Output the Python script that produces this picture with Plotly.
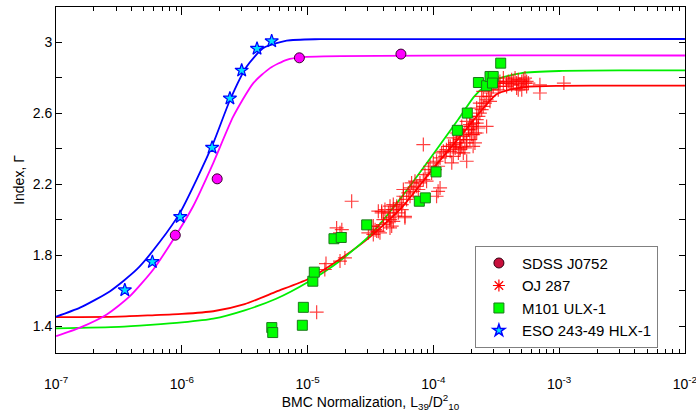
import plotly.graph_objects as go

# ---------------- data ----------------
# ESO 243-49 HLX-1 (stars)
eso_norm = [3.52e-7, 5.83e-7, 9.7e-7, 1.74e-6, 2.41e-6, 2.99e-6, 3.96e-6, 5.18e-6]
eso_gamma = [1.604, 1.763, 2.016, 2.406, 2.683, 2.84, 2.963, 3.005]

# SDSS J0752 (circles)
sdss_norm = [8.87e-7, 1.91e-6, 8.6e-6, 5.52e-5]
sdss_gamma = [1.913, 2.23, 2.911, 2.932]

# M101 ULX-1 (squares)
m101_norm = [9.25e-6, 9.08e-6, 5.19e-6, 5.28e-6, 1.10e-5, 1.13e-5, 1.62e-5, 1.85e-5,
             2.95e-5, 7.73e-5, 8.63e-5, 1.05e-4, 1.55e-4, 1.86e-4, 2.28e-4, 2.65e-4,
             2.82e-4, 2.99e-4, 2.95e-4, 3.43e-4]
m101_gamma = [1.507, 1.406, 1.393, 1.365, 1.654, 1.705, 1.893, 1.90,
              1.971, 2.104, 2.123, 2.269, 2.503, 2.60, 2.772, 2.754,
              2.806, 2.806, 2.769, 2.881]

# OJ 287 (crosses)
oj_norm = [
    3.33e-5, 3.54e-5, 3.76e-5, 4.00e-5, 4.25e-5, 4.52e-5, 4.66e-5, 4.80e-5, 5.11e-5, 5.42e-5,
    5.60e-5, 5.77e-5, 5.77e-5, 6.12e-5, 6.32e-5, 6.52e-5, 5.94e-5, 6.92e-5, 7.36e-5, 7.82e-5,
    8.32e-5, 8.57e-5, 8.83e-5, 9.12e-5, 9.40e-5, 9.68e-5, 9.98e-5, 1.06e-4, 1.09e-4, 1.13e-4,
    1.16e-4, 1.20e-4, 1.24e-4, 1.27e-4, 1.32e-4, 1.36e-4, 1.40e-4, 1.44e-4, 1.49e-4, 1.53e-4,
    1.58e-4, 1.63e-4, 1.68e-4, 1.73e-4, 1.78e-4, 1.84e-4, 1.84e-4, 1.90e-4, 1.95e-4, 2.01e-4,
    2.07e-4, 2.14e-4, 2.21e-4, 8.32e-5, 1.09e-4, 1.13e-4, 1.06e-4, 4.12e-5, 3.88e-5, 3.33e-5,
    4.52e-5, 3.65e-5, 6.52e-5, 7.14e-5, 7.59e-5, 4.95e-5, 5.26e-5, 4.39e-5, 6.71e-5, 1.03e-4,
    1.44e-4, 1.63e-4, 1.73e-4, 1.95e-4, 2.07e-4, 2.21e-4, 2.28e-4,
    1.36e-4, 1.49e-4, 1.63e-4, 1.73e-4, 1.84e-4, 1.90e-4, 2.01e-4, 2.07e-4, 2.14e-4, 2.21e-4,
    2.28e-4, 2.34e-4, 2.42e-4, 2.49e-4, 2.65e-4, 2.07e-4, 1.63e-4, 1.78e-4, 2.57e-4, 2.65e-4,
    2.74e-4, 2.82e-4, 2.90e-4, 2.99e-4, 2.82e-4, 3.09e-4, 3.18e-4, 3.28e-4, 3.38e-4, 3.60e-4,
    3.82e-4, 4.06e-4, 4.32e-4, 4.46e-4, 4.59e-4, 4.73e-4, 4.88e-4, 5.04e-4, 5.19e-4, 5.35e-4,
    5.51e-4, 5.69e-4, 4.19e-4, 3.94e-4, 4.59e-4, 5.04e-4, 7.03e-4, 7.03e-4, 1.09e-3, 2.42e-4,
    2.49e-4, 2.34e-4, 2.21e-4, 1.95e-4, 1.84e-4, 1.68e-4, 1.53e-4, 1.44e-4,
    3.60e-4, 3.82e-4, 4.19e-4, 5.35e-4, 5.51e-4, 4.73e-4, 3.38e-4, 3.28e-4,
    1.18e-5, 1.40e-5, 1.37e-5, 1.81e-5, 1.98e-5, 1.70e-5, 1.87e-5, 1.81e-5, 2.24e-5, 3.04e-5,
    3.23e-5, 3.65e-5, 3.88e-5, 4.52e-5, 4.80e-5, 5.11e-5, 5.60e-5, 5.94e-5, 4.52e-5, 4.80e-5,
    4.00e-5, 3.44e-5,
]
oj_gamma = [
    1.964, 1.936, 1.926, 2.001, 1.982, 2.011, 1.964, 2.057, 2.076, 2.095,
    2.057, 2.132, 2.170, 2.114, 2.151, 2.179, 2.011, 2.160, 2.188, 2.207,
    2.226, 2.254, 2.217, 2.282, 2.301, 2.263, 2.320, 2.329, 2.301, 2.348,
    2.376, 2.385, 2.357, 2.394, 2.413, 2.385, 2.320, 2.423, 2.404, 2.432,
    2.376, 2.451, 2.413, 2.469, 2.488, 2.451, 2.329, 2.507, 2.535, 2.479,
    2.526, 2.432, 2.544, 2.423, 2.160, 2.179, 2.132, 2.057, 2.039, 1.917,
    1.954, 2.048, 2.132, 2.217, 2.170, 2.020, 2.039, 2.039, 2.207, 2.282,
    2.357, 2.394, 2.376, 2.451, 2.479, 2.488, 2.516,
    2.413, 2.432, 2.450, 2.478, 2.432, 2.507, 2.525, 2.544, 2.488, 2.563,
    2.581, 2.600, 2.619, 2.638, 2.525, 2.413, 2.404, 2.404, 2.656, 2.675,
    2.694, 2.713, 2.731, 2.750, 2.666, 2.769, 2.778, 2.769, 2.778, 2.769,
    2.769, 2.769, 2.778, 2.797, 2.769, 2.787, 2.759, 2.778, 2.787, 2.769,
    2.778, 2.769, 2.759, 2.778, 2.741, 2.731, 2.759, 2.713, 2.769, 2.694,
    2.722, 2.656, 2.628, 2.581, 2.553, 2.525, 2.488, 2.460,
    2.797, 2.750, 2.787, 2.797, 2.750, 2.731, 2.750, 2.731,
    1.480, 1.753, 1.720, 1.767, 1.785, 1.954, 1.944, 1.926, 2.104, 1.926,
    1.963, 1.935, 2.047, 2.076, 2.085, 2.066, 2.085, 2.019, 2.001, 1.991,
    1.973, 1.944,
]

# fitted curves
fit_blue_norm = [1e-7, 1.55e-7, 2.69e-7, 4.38e-7, 6.71e-7, 9.68e-7, 1.31e-6, 1.78e-6,
                 2.42e-6, 3.28e-6, 4.45e-6, 6.82e-6, 1.26e-5, 1e-2]
fit_blue_gamma = [1.454, 1.505, 1.598, 1.72, 1.877, 2.04, 2.226, 2.432,
                  2.675, 2.862, 2.966, 3.008, 3.016, 3.017]

fit_magenta_norm = [1e-7, 1.55e-7, 2.53e-7, 3.87e-7, 5.93e-7, 8.55e-7, 1.23e-6, 1.78e-6,
                    2.56e-6, 3.70e-6, 5.02e-6, 6.82e-6, 9.25e-6, 1e-2]
fit_magenta_gamma = [1.345, 1.393, 1.467, 1.570, 1.72, 1.889, 2.076, 2.32,
                     2.58, 2.769, 2.853, 2.9, 2.915, 2.924]

fit_red_norm = [1e-7, 3.16e-7, 5.62e-7, 1e-6, 1.78e-6, 3.16e-6, 5.62e-6, 1e-5, 1.78e-5,
                3.16e-5, 5.62e-5, 1e-4, 1.78e-4, 2.51e-4, 3.16e-4, 3.98e-4, 5.62e-4,
                1e-3, 3.16e-3, 1e-2]
fit_red_gamma = [1.452, 1.455, 1.462, 1.47, 1.485, 1.525, 1.595, 1.665, 1.775,
                 1.905, 2.07, 2.29, 2.50, 2.63, 2.705, 2.73, 2.748,
                 2.753, 2.755, 2.755]

fit_green_norm = [1e-7, 3.16e-7, 5.62e-7, 1e-6, 1.78e-6, 3.16e-6, 5.62e-6, 1e-5, 1.78e-5,
                  3.16e-5, 5.62e-5, 1e-4, 1.58e-4, 2.09e-4, 2.51e-4, 3.16e-4, 5.01e-4,
                  1e-3, 3.16e-3, 1e-2]
fit_green_gamma = [1.389, 1.397, 1.408, 1.422, 1.443, 1.49, 1.555, 1.648, 1.765,
                   1.915, 2.13, 2.37, 2.565, 2.69, 2.745, 2.79, 2.825,
                   2.837, 2.84, 2.84]

x_tick_vals = [1e-7, 1e-6, 1e-5, 1e-4, 1e-3, 1e-2]
x_tick_text = ["10<sup>-7</sup>", "10<sup>-6</sup>", "10<sup>-5</sup>",
               "10<sup>-4</sup>", "10<sup>-3</sup>", "10<sup>-2</sup>"]
y_tick_vals = [1.4, 1.8, 2.2, 2.6, 3.0]
y_tick_text = ["1.4", "1.8", "2.2", "2.6", "3"]
y_minor_vals = [1.6, 2.0, 2.4, 2.8]

legend_names = ["SDSS J0752", "OJ 287", "M101 ULX-1", "ESO 243-49 HLX-1"]

# ---------------- figure ----------------
fig = go.Figure()

line_w = 1.8
for xs, ys, col in [(fit_red_norm, fit_red_gamma, "#ff0000"),
                    (fit_green_norm, fit_green_gamma, "#00ee00"),
                    (fit_magenta_norm, fit_magenta_gamma, "#ff00ff"),
                    (fit_blue_norm, fit_blue_gamma, "#0000ff")]:
    fig.add_trace(go.Scatter(x=xs, y=ys, mode="lines", showlegend=False,
                             line=dict(color=col, width=line_w, shape="spline", smoothing=0.6),
                             hoverinfo="skip"))

fig.add_trace(go.Scatter(x=oj_norm, y=oj_gamma, mode="markers", showlegend=False,
                         marker=dict(symbol="cross-thin", size=10, opacity=0.75,
                                     line=dict(color="#ff0000", width=1.2))))
fig.add_trace(go.Scatter(x=m101_norm, y=m101_gamma, mode="markers", showlegend=False,
                         marker=dict(symbol="square", size=10, color="#00ff00",
                                     line=dict(color="#1a7a1a", width=1))))
fig.add_trace(go.Scatter(x=sdss_norm, y=sdss_gamma, mode="markers", showlegend=False,
                         marker=dict(symbol="circle", size=10, color="#ff00ff",
                                     line=dict(color="#3a0030", width=1))))
fig.add_trace(go.Scatter(x=eso_norm, y=eso_gamma, mode="markers", showlegend=False,
                         marker=dict(symbol="star", size=10, color="#00e0ff",
                                     line=dict(color="#0000ff", width=1.2))))

# legend entries
legend_markers = [
    dict(symbol="circle", size=10, color="#c8103c", line=dict(color="#300010", width=1)),
    dict(symbol="asterisk-open", size=10, color="#ff0000", line=dict(color="#ff0000", width=1.2)),
    dict(symbol="square", size=10, color="#00ff00", line=dict(color="#1a7a1a", width=1)),
    dict(symbol="star", size=9, color="#00e0ff", line=dict(color="#0000ff", width=1.5)),
]
for name, mk in zip(legend_names, legend_markers):
    fig.add_trace(go.Scatter(x=[None], y=[None], mode="markers", name=name, marker=mk))

axis_common = dict(showline=True, linecolor="black", linewidth=1, mirror="ticks",
                   ticks="inside", tickcolor="black", showgrid=False, zeroline=False,
                   automargin=False, tickfont=dict(size=14, color="black"))

fig.update_xaxes(type="log", range=[-7.0005, -1.9995], tickvals=x_tick_vals, ticktext=x_tick_text,
                 ticklen=8, tickwidth=1, ticklabelstandoff=18, ticklabeloverflow="allow",
                 minor=dict(ticks="inside", ticklen=4, tickcolor="black", showgrid=False,
                            tickvals=[m * 10 ** e for e in range(-7, -2) for m in range(2, 10)]),
                 title=dict(text="BMC Normalization, L<sub>39</sub>/D<sup>2</sup><sub>10</sub>",
                            font=dict(size=14, color="black"), standoff=4),
                 **axis_common)
fig.update_yaxes(range=[1.25, 3.197], tickvals=y_tick_vals, ticktext=y_tick_text,
                 ticklen=6, tickwidth=1,
                 minor=dict(ticks="inside", ticklen=6, tickcolor="black", showgrid=False,
                            tickvals=y_minor_vals),
                 title=dict(text="Index, Γ", font=dict(size=14, color="black"), standoff=4),
                 **axis_common)

fig.update_layout(
    width=696, height=418,
    margin=dict(l=56, r=11, t=7, b=65),
    paper_bgcolor="white", plot_bgcolor="white",
    font=dict(family="Liberation Sans, Arial, sans-serif", size=14, color="black"),
    legend=dict(x=0.666, y=0.31, xanchor="left", yanchor="top",
                bordercolor="#808080", borderwidth=1, bgcolor="white",
                font=dict(size=15, color="black"), tracegroupgap=0,
                itemwidth=36, entrywidth=160, entrywidthmode="pixels"),
)

fig.write_html("out.html", config={"displayModeBar": False},
               post_script="document.body.style.margin='0';document.body.style.overflow='hidden';")
